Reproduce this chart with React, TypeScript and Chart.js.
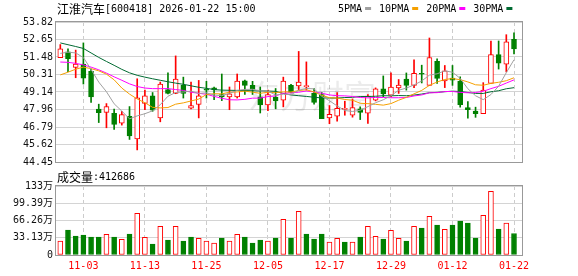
import React, { useEffect, useRef } from 'react';
import { Chart, registerables } from 'chart.js';

Chart.register(...registerables);

// ---------- data ----------
const stockName = '江淮汽车';
const stockInfo = '[600418] 2026-01-22 15:00';
const volumeTitle = '成交量';
const lastVolume = 412686;

const opens = [51.44, 51.83, 50.78, 51.0, 50.52, 47.99, 47.77, 47.71, 47.05, 47.51, 46.0, 48.37, 48.88, 47.4, 49.3, 49.04, 49.58, 48.05, 48.3, 49.3, 49.42, 48.97, 48.8, 48.8, 49.89, 49.58, 48.82, 48.27, 48.8, 48.58, 49.58, 49.54, 49.5, 49.04, 48.97, 47.4, 47.51, 47.97, 47.58, 48.01, 47.71, 48.58, 49.34, 48.93, 49.41, 50.0, 49.58, 50.37, 49.58, 51.18, 49.87, 50.06, 49.87, 48.1, 47.86, 47.69, 49.71, 51.64, 51.0, 52.66];
const closes = [52.03, 51.37, 51.0, 50.06, 48.8, 47.75, 48.16, 46.96, 47.62, 46.2, 48.75, 48.88, 47.92, 49.67, 49.04, 50.0, 49.04, 48.23, 48.88, 49.25, 49.27, 48.8, 49.02, 49.87, 49.58, 49.3, 48.27, 48.97, 48.54, 49.87, 49.1, 49.8, 49.54, 48.43, 47.35, 47.64, 48.05, 48.01, 48.1, 47.77, 48.86, 49.34, 49.0, 49.47, 49.6, 49.58, 50.39, 50.32, 51.44, 50.04, 50.56, 49.93, 48.28, 47.95, 47.69, 49.26, 51.64, 51.07, 52.49, 52.01];
const highs = [52.31, 52.03, 51.94, 52.42, 50.67, 48.32, 48.36, 47.99, 47.84, 48.16, 50.02, 49.26, 49.1, 49.8, 50.41, 51.55, 50.13, 49.8, 49.91, 49.85, 49.47, 50.34, 49.47, 50.34, 49.93, 49.85, 49.47, 49.26, 49.37, 50.13, 49.65, 51.85, 51.15, 49.37, 49.1, 48.23, 49.1, 48.52, 48.67, 48.14, 48.97, 49.41, 50.21, 50.41, 49.97, 50.41, 51.29, 50.93, 52.75, 51.35, 50.91, 50.91, 50.15, 48.49, 48.12, 49.76, 52.55, 52.55, 52.97, 53.1];
const lows = [51.44, 50.5, 50.09, 49.67, 48.43, 47.09, 46.74, 46.63, 46.92, 45.96, 45.26, 47.95, 47.84, 47.14, 49.0, 49.02, 48.73, 48.01, 47.4, 48.73, 48.62, 48.56, 47.95, 48.73, 48.97, 48.97, 47.73, 47.88, 48.01, 48.14, 49.08, 49.26, 49.26, 48.32, 47.35, 47.01, 47.18, 47.58, 47.45, 47.29, 47.03, 48.54, 48.82, 48.8, 49.04, 49.26, 49.43, 49.74, 49.58, 49.71, 49.43, 49.58, 48.12, 47.38, 47.44, 47.69, 49.71, 50.67, 50.48, 51.68];
// volume in 万 (10k shares)
const volumes = [26.9, 48.0, 36.5, 38.4, 34.6, 34.6, 39.7, 34.6, 30.1, 40.3, 80.0, 34.0, 21.1, 55.1, 28.8, 55.1, 26.9, 34.6, 32.0, 26.9, 23.0, 32.6, 26.9, 39.7, 34.6, 23.0, 28.8, 26.9, 32.6, 68.5, 32.6, 83.9, 40.3, 30.7, 40.3, 25.0, 32.0, 25.0, 25.0, 34.6, 55.1, 35.9, 30.7, 47.4, 32.0, 26.9, 55.1, 51.9, 74.3, 57.6, 49.3, 57.6, 65.3, 61.5, 32.6, 76.2, 122.3, 49.9, 61.5, lastVolume / 10000];

// moving-average values for the days whose window starts before the visible range
const ma5Head = [51.72, 51.8, 51.75, 51.44];
const ma10Head = [50.28, 50.46, 50.66, 50.8, 50.7, 50.55, 50.33, 49.95, 49.4];
const ma20Head = [51.14, 51.12, 51.05, 50.95, 50.8, 50.62, 50.4, 50.15, 49.92, 49.68, 49.5, 49.4, 49.36, 49.36, 49.36, 49.3, 49.24, 49.12, 49.05];
const ma30Head = [52.42, 52.3, 52.18, 52.05, 51.75, 51.45, 51.18, 50.92, 50.65, 50.42, 50.25, 50.13, 50.02, 49.92, 49.82, 49.73, 49.65, 49.55, 49.45, 49.38, 49.3, 49.26, 49.25, 49.24, 49.23, 49.22, 49.21, 49.2, 49.18];

const maNames = ['5PMA', '10PMA', '20PMA', '30PMA'];
const maColors = ['#a0a0a0', '#f5a000', '#ff00ff', '#006a32'];

const priceTicks = [44.45, 45.62, 46.79, 47.96, 49.14, 50.31, 51.48, 52.65, 53.82];
const priceTickLabels = ['44.45', '45.62', '46.79', '47.96', '49.14', '50.31', '51.48', '52.65', '53.82'];
const volumeTicks = [0, 33.13, 66.26, 99.39, 132.52];
const volumeTickLabels = ['0', '33.13万', '66.26万', '99.39万', '133万'];
const dateTickIndex = [3, 11, 19, 27, 35, 43, 51, 59];
const dateTickLabels = ['11-03', '11-13', '11-25', '12-05', '12-17', '12-29', '01-12', '01-22'];

const watermark = '东方财富';

// ---------- helpers ----------
const RED = '#ff0000';
const GREEN = '#008000';
const MONO = "'DejaVu Sans Mono', 'Noto Sans CJK SC'";
const CJK = "'Noto Sans CJK SC'";
const X_MIN = -0.56;
const X_MAX = 60.04;

function movingAverage(head: number[], period: number): number[] {
  return closes.map((_, i) => {
    if (i < head.length) return head[i];
    let s = 0;
    for (let k = i - period + 1; k <= i; k++) s += closes[k];
    return s / period;
  });
}

const idx = closes.map((_, i) => i);
const candleUp = idx.map((i) => closes[i] >= opens[i]);
const volumeUp = idx.map((i) => (i === 0 ? closes[i] >= opens[i] : closes[i] >= closes[i - 1]));

const framePlugin = {
  id: 'frame',
  afterDraw(chart: any) {
    const { ctx, chartArea: a } = chart;
    ctx.save();
    ctx.strokeStyle = '#999999';
    ctx.lineWidth = 1;
    ctx.strokeRect(Math.round(a.left) - 0.5, Math.round(a.top) - 0.5, Math.round(a.right - a.left) + 1, Math.round(a.bottom - a.top) + 1);
    ctx.restore();
  },
};

const headerPlugin = {
  id: 'header',
  beforeDatasetsDraw(chart: any) {
    const ctx = chart.ctx;
    ctx.save();
    ctx.font = `32px ${CJK}`;
    ctx.fillStyle = 'rgba(0,0,0,0.08)';
    ctx.textAlign = 'center';
    ctx.textBaseline = 'middle';
    ctx.fillText(watermark, 312, 96);
    ctx.restore();
  },
  afterDraw(chart: any) {
    const ctx = chart.ctx;
    ctx.save();
    ctx.fillStyle = '#000';
    ctx.textBaseline = 'middle';
    ctx.textAlign = 'left';
    ctx.font = `12px ${CJK}`;
    ctx.fillText(stockName, 57, 9);
    const w = ctx.measureText(stockName).width;
    ctx.font = `10px ${MONO}`;
    ctx.fillText(stockInfo, 57 + w, 9.5);
    let x = 338;
    maNames.forEach((name, k) => {
      ctx.fillStyle = '#000';
      ctx.fillText(name, x, 9.5);
      const tw = ctx.measureText(name).width;
      ctx.fillStyle = maColors[k];
      ctx.fillRect(x + tw + 3, 7, 6, 3);
      x = x + tw + 3 + 6 + 8;
    });
    ctx.restore();
  },
};

const volHeaderPlugin = {
  id: 'volHeader',
  afterDraw(chart: any) {
    const ctx = chart.ctx;
    ctx.save();
    ctx.fillStyle = '#000';
    ctx.textBaseline = 'middle';
    ctx.font = `12px ${CJK}`;
    ctx.fillText(volumeTitle, 57, 6);
    const w = ctx.measureText(volumeTitle).width;
    ctx.font = `10px ${MONO}`;
    ctx.fillText(':' + String(lastVolume), 57 + w, 6.5);
    ctx.restore();
  },
};

function xScale(showLabels: boolean, height: number) {
  return {
    type: 'linear',
    min: X_MIN,
    max: X_MAX,
    bounds: 'data',
    offset: false,
    afterBuildTicks: (s: any) => {
      s.ticks = dateTickIndex.map((v) => ({ value: v }));
    },
    afterFit: (s: any) => {
      s.height = height;
    },
    grid: { color: '#cccccc', lineWidth: 1, drawTicks: false, offset: false },
    border: { display: false, dash: [4, 3] },
    ticks: {
      display: showLabels,
      autoSkip: false,
      maxRotation: 0,
      padding: 5,
      color: RED,
      font: { family: MONO, size: 10 },
      callback: (_v: any, i: number) => dateTickLabels[i],
    },
  };
}

function yScale(min: number, max: number, ticks: number[], labels: string[]) {
  return {
    type: 'linear',
    position: 'left',
    min,
    max,
    bounds: 'data',
    afterBuildTicks: (s: any) => {
      s.ticks = ticks.map((v) => ({ value: v }));
    },
    afterFit: (s: any) => {
      s.width = 56;
    },
    grid: { color: '#d4d4d4', lineWidth: 1, drawTicks: false },
    border: { display: false },
    ticks: {
      autoSkip: false,
      padding: 3,
      color: '#111',
      font: { family: MONO, size: 10 },
      callback: (_v: any, i: number) => labels[i],
    },
  };
}

export default function App() {
  const topRef = useRef<HTMLCanvasElement>(null);
  const volRef = useRef<HTMLCanvasElement>(null);

  useEffect(() => {
    const ma = [movingAverage(ma5Head, 5), movingAverage(ma10Head, 10), movingAverage(ma20Head, 20), movingAverage(ma30Head, 30)];

    const lineSets = ma.map((vals, k) => ({
      type: 'line',
      label: maNames[k],
      data: vals.map((v, i) => ({ x: i, y: v })),
      borderColor: maColors[k],
      borderWidth: 1,
      pointRadius: 0,
      fill: false,
      tension: 0,
      order: 0,
    }));

    const top = new Chart(topRef.current as HTMLCanvasElement, {
      type: 'bar',
      data: {
        datasets: [
          {
            type: 'bar',
            label: 'wick',
            data: idx.map((i) => ({ x: i, y: [lows[i], highs[i]] })),
            backgroundColor: idx.map((i) => (candleUp[i] ? RED : GREEN)),
            borderWidth: 0,
            barThickness: 1,
            grouped: false,
            order: 2,
          },
          {
            type: 'bar',
            label: 'body',
            data: idx.map((i) => ({ x: i, y: [opens[i], closes[i]] })),
            backgroundColor: idx.map((i) => (candleUp[i] ? '#ffffff' : GREEN)),
            borderColor: idx.map((i) => (candleUp[i] ? RED : GREEN)),
            borderWidth: 1,
            borderSkipped: false,
            barThickness: 5,
            minBarLength: 1,
            grouped: false,
            order: 1,
          },
          ...lineSets,
        ] as any,
      },
      options: {
        responsive: false,
        animation: false,
        devicePixelRatio: 1,
        layout: { padding: { left: 0, right: 56, top: 22, bottom: 6 } },
        plugins: { legend: { display: false }, tooltip: { enabled: false } },
        scales: {
          x: xScale(false, 0) as any,
          y: yScale(44.45, 53.82, priceTicks, priceTickLabels) as any,
        },
      },
      plugins: [headerPlugin, framePlugin],
    });

    const vol = new Chart(volRef.current as HTMLCanvasElement, {
      type: 'bar',
      data: {
        datasets: [
          {
            label: 'volume',
            data: idx.map((i) => ({ x: i, y: volumes[i] })),
            backgroundColor: idx.map((i) => (volumeUp[i] ? '#ffffff' : GREEN)),
            borderColor: idx.map((i) => (volumeUp[i] ? RED : GREEN)),
            borderWidth: 1,
            borderSkipped: false,
            barThickness: 5,
            grouped: false,
          },
        ] as any,
      },
      options: {
        responsive: false,
        animation: false,
        devicePixelRatio: 1,
        layout: { padding: { left: 0, right: 56, top: 15, bottom: 0 } },
        plugins: { legend: { display: false }, tooltip: { enabled: false } },
        scales: {
          x: xScale(true, 21) as any,
          y: yScale(0, 132.52, volumeTicks, volumeTickLabels) as any,
        },
      },
      plugins: [volHeaderPlugin, framePlugin],
    });

    return () => {
      top.destroy();
      vol.destroy();
    };
  }, []);

  return (
    <div style={{ position: 'absolute', left: 0, top: 0, width: 578, height: 276, background: '#ffffff', overflow: 'hidden' }}>
      <canvas ref={topRef} width={578} height={171} style={{ position: 'absolute', left: 0, top: 0, width: 578, height: 171 }} />
      <canvas ref={volRef} width={578} height={105} style={{ position: 'absolute', left: 0, top: 171, width: 578, height: 105 }} />
    </div>
  );
}
